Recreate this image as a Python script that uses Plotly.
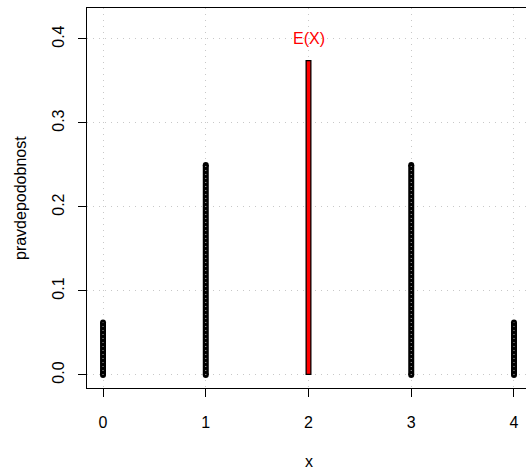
import plotly.graph_objects as go

x_vals = [0, 1, 2, 3, 4]
probs = [0.0625, 0.25, 0.375, 0.25, 0.0625]
expected_x = 2
x_ticks = [0, 1, 2, 3, 4]
y_ticks = [0.0, 0.1, 0.2, 0.3, 0.4]
y_tick_labels = ["0.0", "0.1", "0.2", "0.3", "0.4"]
x_title = "x"
y_title = "pravdepodobnost"
ex_label = "E(X)"

W, H = 526, 469
L, R, T, B = 87, 0, 8, 81
FONT = "Liberation Sans, Arial, sans-serif"

fig = go.Figure()

for xv, p in zip(x_vals, probs):
    if xv == expected_x:
        continue
    fig.add_trace(go.Scatter(x=[xv, xv], y=[0, p], mode="lines+markers",
                             line=dict(color="black", width=6),
                             marker=dict(color="black", size=6),
                             hoverinfo="skip", showlegend=False))
    fig.add_trace(go.Scatter(x=[xv, xv], y=[0, p], mode="lines",
                             line=dict(color="#bbbbbb", width=1, dash="1px,3px"),
                             hoverinfo="skip", showlegend=False))

# expected value bar
pe = probs[x_vals.index(expected_x)]
fig.add_trace(go.Scatter(x=[expected_x, expected_x], y=[0, pe], mode="lines",
                         line=dict(color="black", width=6),
                         hoverinfo="skip", showlegend=False))
fig.add_trace(go.Scatter(x=[expected_x, expected_x], y=[0.0015, pe - 0.0015], mode="lines",
                         line=dict(color="red", width=3.5),
                         hoverinfo="skip", showlegend=False))

fig.add_annotation(x=expected_x, y=0.4, text=ex_label, showarrow=False,
                   xanchor="center", yanchor="middle",
                   font=dict(family=FONT, size=16, color="red"))

pw = W - L - R
ph = H - T - B
fig.add_annotation(xref="paper", yref="paper", x=(20 - L) / pw, y=0.5,
                   text=y_title, textangle=-90, showarrow=False,
                   xanchor="center", yanchor="middle",
                   font=dict(family=FONT, size=16, color="black"))
fig.add_annotation(xref="paper", yref="paper", x=0.5 + (309 - (L + pw / 2)) / pw,
                   y=-(461 - (T + ph)) / ph,
                   text=x_title, showarrow=False,
                   xanchor="center", yanchor="middle",
                   font=dict(family=FONT, size=16, color="black"))

GRID = dict(showgrid=True, gridcolor="#c8c8c8", griddash="1px,5px", gridwidth=1)

fig.update_layout(
    width=W, height=H,
    margin=dict(l=L, r=R, t=T, b=B, pad=0),
    paper_bgcolor="white", plot_bgcolor="white",
    font=dict(family=FONT, size=16, color="black"),
    xaxis=dict(range=[-0.156, 4.117], tickvals=x_ticks, ticktext=[str(v) for v in x_ticks],
               zeroline=False, showline=True, linecolor="black", linewidth=1,
               mirror=True, ticks="outside", ticklen=8, tickcolor="black",
               ticklabelstandoff=12, **GRID),
    yaxis=dict(range=[-0.0155, 0.4369], tickvals=y_ticks, ticktext=y_tick_labels,
               zeroline=False, showline=True, linecolor="black", linewidth=1,
               mirror=False, ticks="outside", ticklen=8, tickcolor="black",
               tickangle=-90, ticklabelstandoff=8, **GRID),
)

fig.write_html("out.html")
